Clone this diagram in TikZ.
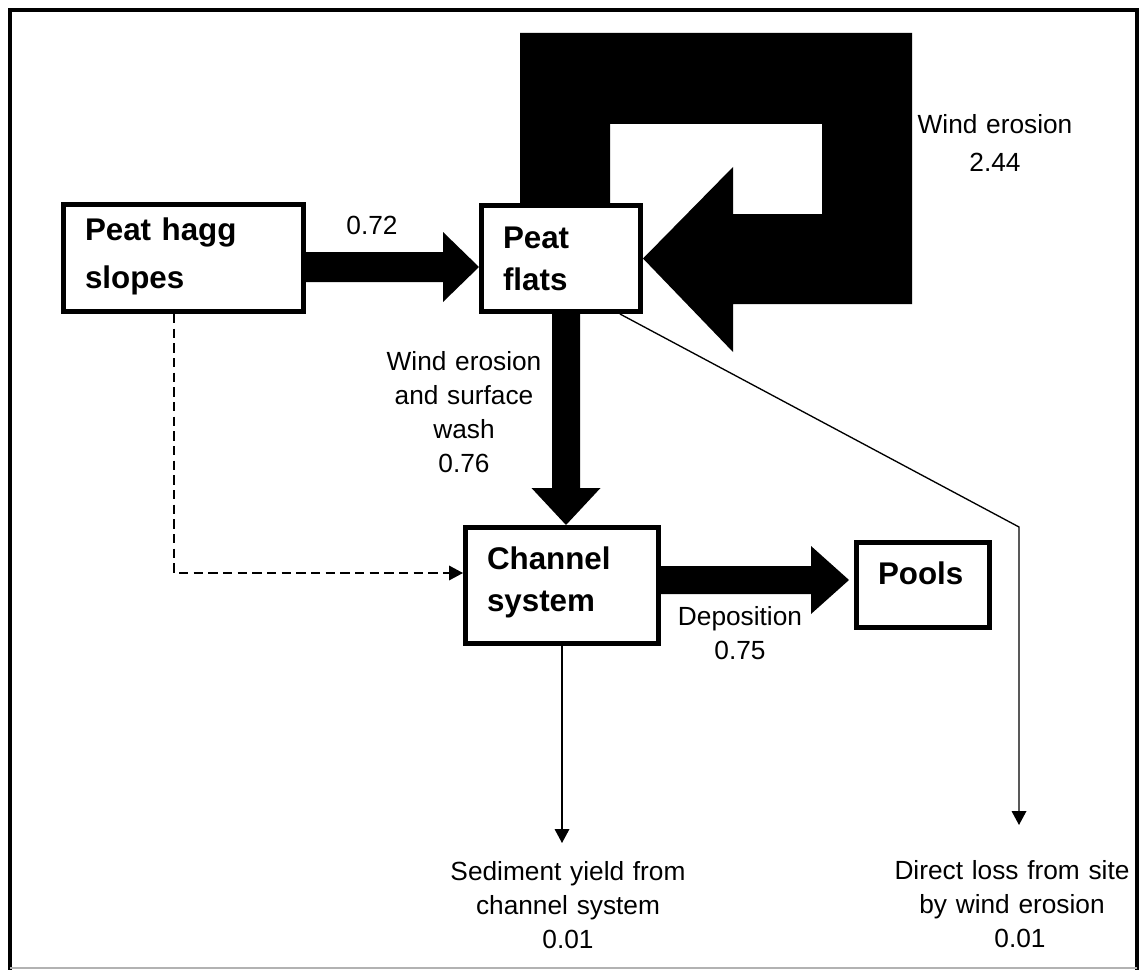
\documentclass[tikz,border=0pt]{standalone}
\usepackage{fontspec}
\setmainfont{Liberation Sans}
\usetikzlibrary{calc,arrows.meta}
\newcommand\boxfont{\fontsize{23.5pt}{31.5pt}\selectfont\bfseries}
\newcommand\labfont{\fontsize{19.7pt}{25.5pt}\selectfont}
% fat horizontal arrow: start, tip, shaft half width, head half width, head length (px)
\newcommand\fatR[5]{\fill let \p1=(#1),\p2=(#2) in (\x1,\y1+#3*0.75pt) -- (\x2-#5*0.75pt,\y1+#3*0.75pt) -- (\x2-#5*0.75pt,\y1+#4*0.75pt) -- (\x2,\y1) -- (\x2-#5*0.75pt,\y1-#4*0.75pt) -- (\x2-#5*0.75pt,\y1-#3*0.75pt) -- (\x1,\y1-#3*0.75pt) -- cycle;}
% fat downward arrow
\newcommand\fatD[5]{\fill let \p1=(#1),\p2=(#2) in (\x1+#3*0.75pt,\y1) -- (\x1+#3*0.75pt,\y2+#5*0.75pt) -- (\x1+#4*0.75pt,\y2+#5*0.75pt) -- (\x1,\y2) -- (\x1-#4*0.75pt,\y2+#5*0.75pt) -- (\x1-#3*0.75pt,\y2+#5*0.75pt) -- (\x1-#3*0.75pt,\y1) -- cycle;}
\tikzset{
  box/.style={draw, line width=3.75pt, fill=white, anchor=north west,
    inner xsep=16.125pt, inner ysep=0pt, align=left, font=\boxfont},
  lab/.style={inner sep=0pt, align=center, text width=187.5pt, anchor=base, font=\labfont},
  flowline/.style={line width=1pt, -{Triangle[length=10.5pt,width=11pt]}},
}
\begin{document}
\begin{tikzpicture}[x=0.75pt,y=-0.75pt]
\useasboundingbox (0,0) rectangle (1142,970);
% frame
\draw[line width=3pt, line join=miter] (10,980) -- (10,10) -- (1137,10) -- (1137,980);
\draw[line width=1.2pt, black!30] (10,968) -- (1137,968);

% boxes (placed by their outer corners)
\node[box, text width=147.75pt, text height=26.625pt, text depth=53.625pt] (hagg) at (61,202) {Peat hagg\\[4.5pt]slopes};
\node[box, text width=87pt, text height=31.875pt, text depth=47.625pt] (flats) at (479,203) {Peat\\flats};
\node[box, text width=112.5pt, text height=31.125pt, text depth=55.875pt] (channel) at (463,525) {Channel\\system};
\node[box, text width=67.5pt, text height=31.125pt, text depth=32.625pt] (pools) at (854,540) {Pools};

% helper coordinates
\coordinate (colL) at (520,0);
\coordinate (colR) at (610,0);
\coordinate (bend) at (1019,527);
\coordinate (lossend) at (1019,825);
\coordinate (dcorner) at (174,573);

% fat arrows
\fatR{$(hagg.east)+(0,9)$}{$(flats.west)+(0,8.5)$}{15}{35}{36}
\fatD{$(flats.south)+(5,0)$}{$(channel.north)+(4,0)$}{14}{34.5}{37}
\fatR{$(channel.east)+(0,-5.5)$}{$(pools.west)+(-5,-5)$}{14}{34}{38}
% wind erosion loop
\fill (flats.north -| colL) -- (520,33) -- (912,33) -- (912,304) -- (733,304) -- (733,352)
  -- (flats.east) -- (733,167) -- (733,214) -- (822,214) -- (822,124) -- (610,124)
  -- (flats.north -| colR) -- cycle;

% thin connectors
\draw[flowline, dash pattern=on 7pt off 4pt] ($(hagg.south)+(-9.5,0)$) -- (dcorner) -- (dcorner -| channel.west);
\draw[flowline] (channel.south) -- ++(0,197) coordinate (sedend);
\draw[flowline] ($(flats.south east)+(-23,0)$) -- (bend) -- (lossend);

% labels
\node[lab] (l072) at (372,234) {0.72};
\node[lab] (lwind) at (995,134) {Wind erosion\\[3pt]2.44};
\node[lab] (lwash) at (464,370) {Wind erosion\\and surface\\wash\\0.76\hspace*{8pt}};
\node[lab] (ldep) at (740,625) {Deposition\\0.75};
\node[lab] (lsed) at (568,880) {Sediment yield from\\channel system\\0.01};
\node[lab] (lloss) at (1012,879) {Direct loss from site\\by wind erosion\\\hspace*{12pt}0.01};
\end{tikzpicture}
\end{document}
